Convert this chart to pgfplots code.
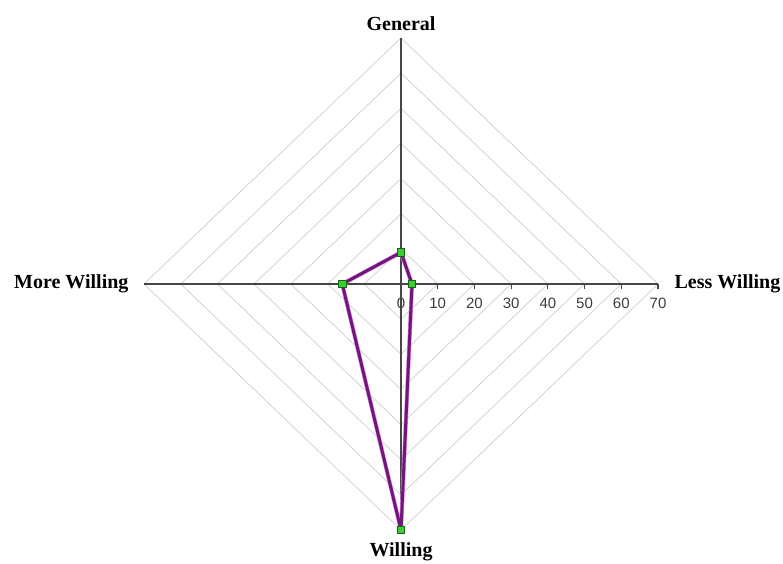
\documentclass[border=0pt]{standalone}
\usepackage{fontspec}
\setmainfont{Liberation Serif}
\newfontfamily\tickfont{Liberation Sans}
\usepackage{pgfplots}
\pgfplotsset{compat=1.18}
\definecolor{gridc}{RGB}{205,205,205}
\definecolor{axc}{RGB}{70,70,70}
\definecolor{tkc}{RGB}{60,60,60}
\definecolor{purp}{RGB}{112,24,122}
\definecolor{halo}{RGB}{225,140,230}
\definecolor{mk}{RGB}{60,205,50}
\definecolor{mkd}{RGB}{20,100,20}
\begin{document}
\begin{tikzpicture}
\path[use as bounding box] (-401pt,-279pt) rectangle (382pt,284pt);
\begin{axis}[
  anchor=origin, at={(0pt,0pt)},
  scale only axis, width=514pt, height=492pt,
  xmin=-70, xmax=70, ymin=-70, ymax=70,
  enlargelimits=false, clip=false,
  axis lines=center,
  axis line style={draw=axc, line width=1.1pt, -},
  xtick={0,10,...,70}, ytick=\empty,
  hide obscured x ticks=false,
  tick align=outside, major tick length=5pt,
  tick style={draw=axc, line width=1.1pt},
  /pgf/number format/assume math mode=true,
  xticklabel style={font=\tickfont\fontsize{15}{17}\selectfont, text=tkc, yshift=-5pt},
  axis on top=false,
]
% grid diamonds
\addplot[gridc, line width=0.7pt] coordinates {(10,0)(0,10)(-10,0)(0,-10)(10,0)};
\addplot[gridc, line width=0.7pt] coordinates {(20,0)(0,20)(-20,0)(0,-20)(20,0)};
\addplot[gridc, line width=0.7pt] coordinates {(30,0)(0,30)(-30,0)(0,-30)(30,0)};
\addplot[gridc, line width=0.7pt] coordinates {(40,0)(0,40)(-40,0)(0,-40)(40,0)};
\addplot[gridc, line width=0.7pt] coordinates {(50,0)(0,50)(-50,0)(0,-50)(50,0)};
\addplot[gridc, line width=0.7pt] coordinates {(60,0)(0,60)(-60,0)(0,-60)(60,0)};
\addplot[gridc, line width=0.7pt] coordinates {(70,0)(0,70)(-70,0)(0,-70)(70,0)};
% axes redrawn over grid
\addplot[axc, line width=1.1pt] coordinates {(-70,0)(70,0)};
\addplot[axc, line width=1.1pt] coordinates {(0,-70)(0,70)};
% tick marks
\addplot[axc, line width=1.1pt, ycomb] coordinates {(10,-1.3)(20,-1.3)(30,-1.3)(40,-1.3)(50,-1.3)(60,-1.3)(70,-1.3)};
% data: General, Less Willing, Willing, More Willing
\addplot[halo, line width=4.2pt, line join=round] coordinates {(0,9)(3,0)(0,-70)(-16,0)(0,9)};
\addplot[purp, line width=3pt, line join=round,
  mark=square*, mark size=3.6pt,
  mark options={fill=mk, draw=mkd, line width=0.6pt}]
  coordinates {(0,9)(3,0)(0,-70)(-16,0)(0,9)};
% category labels
\node[anchor=south, font=\bfseries\fontsize{20}{24}\selectfont, yshift=4pt] at (axis cs:0,70) {General};
\node[anchor=north, font=\bfseries\fontsize{20}{24}\selectfont, yshift=-9pt] at (axis cs:0,-70) {Willing};
\node[anchor=east, font=\bfseries\fontsize{20}{24}\selectfont, xshift=-12pt] at (axis cs:-70,0) {More Willing};
\node[anchor=west, font=\bfseries\fontsize{20}{24}\selectfont, xshift=13pt] at (axis cs:70,0) {Less Willing};
\end{axis}
\end{tikzpicture}
\end{document}
